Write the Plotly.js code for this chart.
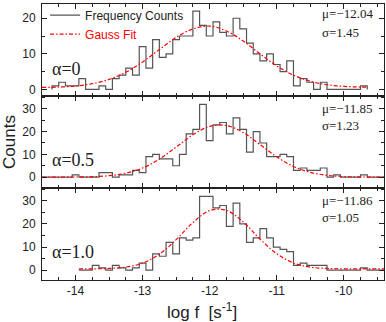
<!DOCTYPE html>
<html>
<head>
<meta charset="utf-8">
<script src="https://cdn.plot.ly/plotly-3.0.1.min.js"></script>
<style>
body { margin: 0; background: #fff; }
#plot { width: 386px; height: 322px; }
</style>
</head>
<body>
<div id="plot"></div>
<script>
// histogram bins are 0.1 wide in log f
var binWidth = 0.1;

// alpha = 0
var start1 = -14.35;
var counts1 = [1, 2, 1, 1, 3, 0, 0, 1, 0, 3, 4, 6, 4, 12, 6, 14, 9, 10, 14, 15,
               15, 22, 18, 15, 19, 16, 15, 20, 17, 13, 10, 8, 10, 7, 5, 8, 1, 3, 2, 0,
               2, 0, 0, 0, 0, 0, 1];
// alpha = 0.5
var start2 = -14.55;
var counts2 = [0, 0, 0, 0, 0, 1, 0, 0, 0, 2, 2, 0, 1, 1, 3, 2, 9, 10, 8, 8,
               5, 10, 19, 21, 32, 16, 23, 24, 19, 26, 21, 11, 20, 15, 9, 9, 10, 9, 3, 4,
               3, 3, 4, 0, 1, 0, 0, 0, 1, 0, 0, 0];
// alpha = 1.0
var start3 = -13.95;
var counts3 = [0, 0, 2, 1, 0, 2, 1, 0, 1, 3, 0, 7, 6, 12, 7, 14, 13, 14, 32, 32,
               27, 28, 19, 29, 20, 12, 14, 18, 14, 10, 9, 8, 2, 3, 2, 2, 2, 0, 0, 0,
               0, 0, 1, 0, 0, 0];

// gauss fit curves
var fitX1 = [-14.5, -14.25, -14, -13.75, -13.5, -13.25, -13, -12.75, -12.5, -12.25, -12,
             -11.75, -11.5, -11.25, -11, -10.75, -10.5, -10.25, -10, -9.65];
var fitY1 = [0.55, 0.65, 0.95, 1.6, 2.8, 4.8, 7.7, 11.2, 14.6, 17.0, 17.8,
             16.4, 13.6, 10.0, 6.6, 4.0, 2.3, 1.3, 0.85, 0.6];
var fitX2 = [-14.5, -14.25, -14, -13.75, -13.5, -13.25, -13, -12.75, -12.5, -12.25, -12,
             -11.75, -11.5, -11.25, -11, -10.75, -10.5, -10.25, -10, -9.75, -9.4];
var fitY2 = [0, 0.01, 0.05, 0.19, 0.63, 1.72, 4.0, 7.9, 13.2, 18.6, 22.3,
             22.7, 19.6, 14.3, 8.9, 4.7, 2.1, 0.8, 0.25, 0.07, 0.01];
var fitX3 = [-13.95, -13.75, -13.5, -13.25, -13, -12.75, -12.5, -12.25, -12,
             -11.75, -11.5, -11.25, -11, -10.75, -10.5, -10.25, -10, -9.75, -9.4];
var fitY3 = [0.5, 0.55, 0.7, 1.3, 3.0, 6.9, 13.2, 20.6, 25.8,
             25.9, 20.9, 13.5, 7.1, 3.1, 1.3, 0.7, 0.55, 0.5, 0.5];

var alphas = ['α=0', 'α=0.5', 'α=1.0'];
var mus = ['μ=−12.04', 'μ=−11.85', 'μ=−11.86'];
var sigmas = ['σ=1.45', 'σ=1.23', 'σ=1.05'];

var xTickVals = [-14, -13, -12, -11, -10];
var xTickText = ['-14', '-13', '-12', '-11', '-10'];

function stepXY(start, counts) {
  var xs = [start], ys = [0];
  for (var i = 0; i < counts.length; i++) {
    xs.push(start + i * binWidth);
    ys.push(counts[i]);
  }
  xs.push(start + counts.length * binWidth); ys.push(counts[counts.length - 1]);
  xs.push(start + counts.length * binWidth); ys.push(0);
  return {x: xs, y: ys};
}

var histColor = '#555555';
var fitLine = {color: '#ff0000', width: 1.2, dash: '4px,2px,1.5px,2px', shape: 'spline'};

var h1 = stepXY(start1, counts1);
var h2 = stepXY(start2, counts2);
var h3 = stepXY(start3, counts3);

var data = [
  {x: h1.x, y: h1.y, xaxis: 'x', yaxis: 'y', type: 'scatter', mode: 'lines',
   name: 'Frequency Counts', line: {color: histColor, width: 1.2, shape: 'hv'}},
  {x: fitX1, y: fitY1, xaxis: 'x', yaxis: 'y', type: 'scatter', mode: 'lines',
   name: '<span style="color:#ff0000">Gauss Fit</span>', line: fitLine},
  {x: h2.x, y: h2.y, xaxis: 'x2', yaxis: 'y2', type: 'scatter', mode: 'lines',
   showlegend: false, line: {color: histColor, width: 1.2, shape: 'hv'}},
  {x: fitX2, y: fitY2, xaxis: 'x2', yaxis: 'y2', type: 'scatter', mode: 'lines',
   showlegend: false, line: fitLine},
  {x: h3.x, y: h3.y, xaxis: 'x3', yaxis: 'y3', type: 'scatter', mode: 'lines',
   showlegend: false, line: {color: histColor, width: 1.2, shape: 'hv'}},
  {x: fitX3, y: fitY3, xaxis: 'x3', yaxis: 'y3', type: 'scatter', mode: 'lines',
   showlegend: false, line: fitLine}
];

var sans = 'Liberation Sans, Arial, sans-serif';
var tickFont = {family: sans, size: 12, color: '#222'};

function xAxis(anchor, labels) {
  return {
    anchor: anchor, domain: [0, 1], range: [-14.5, -9.4],
    tickvals: xTickVals, ticktext: xTickText, showticklabels: labels,
    ticks: 'inside', ticklen: 5, tickcolor: '#222',
    minor: {dtick: 0.25, ticks: 'inside', ticklen: 3, tickcolor: '#222'},
    showline: true, linecolor: '#222', linewidth: 1, mirror: 'allticks',
    showgrid: false, zeroline: false, tickfont: tickFont
  };
}
function yAxis(anchor, domain, range, vals) {
  return {
    anchor: anchor, domain: domain, range: range,
    tickvals: vals, ticks: 'inside', ticklen: 5, tickcolor: '#222',
    minor: {dtick: 5, ticks: 'inside', ticklen: 3, tickcolor: '#222'},
    showline: true, linecolor: '#222', linewidth: 1, mirror: 'allticks',
    showgrid: false, zeroline: false, tickfont: tickFont, ticklabelstandoff: 3
  };
}

var serif = {family: 'Liberation Serif, Times New Roman, serif', size: 13, color: '#222'};
var annotations = [];
var yrefs = ['y', 'y2', 'y3'];
var xrefs = ['x', 'x2', 'x3'];
var muY = [21.2, 30.2, 30.2];
var sigY = [15.9, 22.8, 23.0];
var alphaY = [5.6, 7.7, 7.9];
for (var i = 0; i < 3; i++) {
  annotations.push({xref: xrefs[i], yref: yrefs[i], x: -10.36, y: muY[i], text: mus[i],
    showarrow: false, xanchor: 'left', font: serif});
  annotations.push({xref: xrefs[i], yref: yrefs[i], x: -10.36, y: sigY[i], text: sigmas[i],
    showarrow: false, xanchor: 'left', font: serif});
  annotations.push({xref: xrefs[i], yref: yrefs[i], x: -14.38, y: alphaY[i], text: alphas[i],
    showarrow: false, xanchor: 'left',
    font: {family: 'Liberation Serif, Times New Roman, serif', size: 18, color: '#222'}});
}
// x axis title, sits a little left of the plot centre
annotations.push({xref: 'paper', yref: 'paper', x: 0.469, y: -0.111, yanchor: 'middle',
  text: 'log f  [s<sup>-1</sup>]', showarrow: false,
  font: {family: sans, size: 17, color: '#222'}});

var y2 = yAxis('x2', [1 / 3, 2 / 3], [-4.78, 35.65], [0, 10, 20, 30]);
y2.title = {text: 'Counts', font: {family: sans, size: 17, color: '#222'}, standoff: 2};

var layout = {
  width: 386, height: 322,
  margin: {l: 42, r: 2, t: 1, b: 42},
  paper_bgcolor: '#fff', plot_bgcolor: '#fff',
  showlegend: true,
  legend: {x: 0.009, y: 1.0125, xanchor: 'left', yanchor: 'top', bgcolor: 'rgba(0,0,0,0)',
           font: {family: sans, size: 12, color: '#222'}},
  xaxis: xAxis('y', false),
  xaxis2: xAxis('y2', false),
  xaxis3: xAxis('y3', true),
  yaxis: yAxis('x', [2 / 3, 1], [-1.86, 24.0], [0, 10, 20]),
  yaxis2: y2,
  yaxis3: yAxis('x3', [0, 1 / 3], [-4.3, 35.6], [0, 10, 20, 30]),
  annotations: annotations
};

var config = {displayModeBar: false, responsive: false, staticPlot: true};

Plotly.newPlot('plot', data, layout, config);
</script>
</body>
</html>
